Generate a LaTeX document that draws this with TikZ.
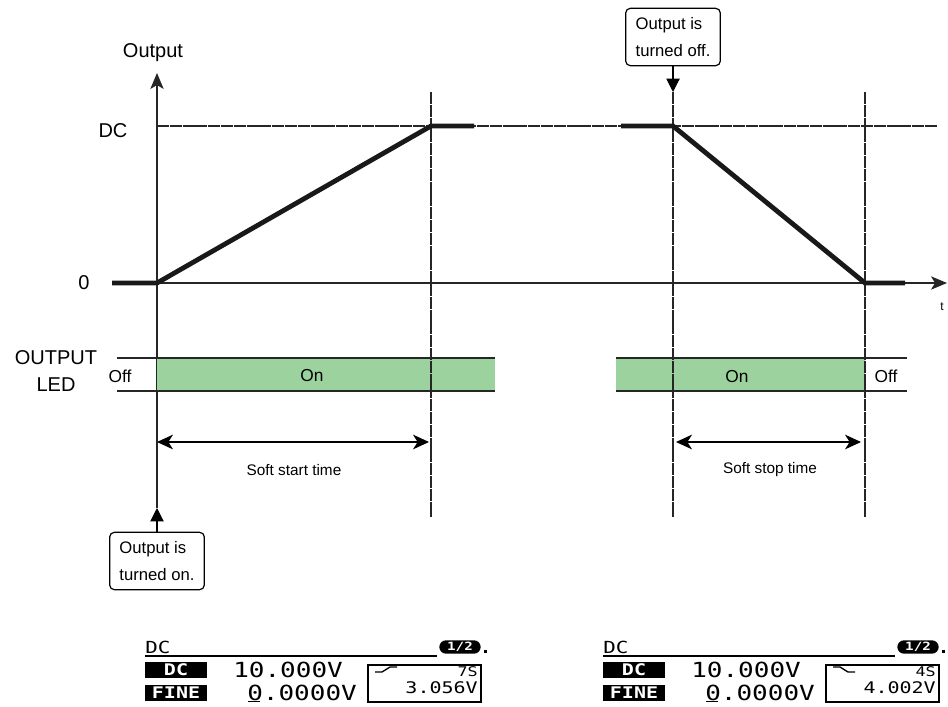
\documentclass[tikz,border=0pt]{standalone}
\usepackage{fontspec}
\setmainfont{Liberation Sans}
\newfontfamily\lcdfont[FakeStretch=1.25]{DejaVu Sans Mono}
\usetikzlibrary{arrows.meta,positioning,calc}
\definecolor{ledgreen}{RGB}{155,210,157}

\begin{document}
\begin{tikzpicture}[
    x=0.75pt, y=-0.75pt,
    thinline/.style={
        line width=0.8pt,
        draw=black!85
    },
    guideline/.style={
        line width=0.8pt,
        draw=black!85,
        dash pattern=on 9pt off 0.6pt
    },
    rampline/.style={
        line width=3.6pt,
        draw=black!90
    },
    pointer/.style={
        -{Triangle[length=10pt,width=10pt]},
        line width=0.8pt
    },
    spanarrow/.style={
        {Stealth[length=12pt,width=11pt,inset=3.5pt]}-{Stealth[length=12pt,width=11pt,inset=3.5pt]},
        line width=0.8pt
    },
    axislabel/.style={font=\fontsize{15}{20}\selectfont, inner sep=0pt, align=center},
    ledlabel/.style={font=\fontsize{13}{15}\selectfont, inner sep=0pt},
    spanlabel/.style={font=\fontsize{11.5}{14}\selectfont, inner sep=0pt},
    callout/.style={
        draw,
        rounded corners=3.5pt,
        line width=0.9pt,
        align=left,
        font=\fontsize{12.5}{20}\selectfont,
        minimum width=71pt,
        minimum height=43pt,
        inner xsep=6pt
    },
    lcd/.style={font=\lcdfont\fontsize{#1}{#1}\selectfont, inner sep=0pt},
    lcdkey/.style={
        fill=black,
        text=white,
        font=\lcdfont\bfseries\fontsize{12}{12}\selectfont,
        inner sep=0pt,
        minimum width=46.5pt,
        minimum height=12pt
    },
    pagebadge/.style={
        fill=black,
        text=white,
        rounded corners=5pt,
        font=\lcdfont\bfseries\fontsize{8.5}{8.5}\selectfont,
        inner sep=0pt,
        minimum width=31pt,
        minimum height=10pt
    }
]
    \useasboundingbox (0,0) rectangle (948,706);

    % --- AXES ---
    \coordinate (ytop) at (157,73);
    \coordinate (ontip) at (157,508);
    \coordinate (zstart) at (112,283);
    \coordinate (tend) at (947,283);

    \draw[thinline, -{Stealth[length=12pt,width=10pt,inset=3pt]}] (ontip) -- (ytop);
    \draw[thinline, -{Stealth[length=12pt,width=10pt,inset=3pt]}] (zstart) -- (tend);

    \node[axislabel] (outlabel) at (153,53) {Output};
    \node[axislabel] (dclabel) at (113,131) {DC};
    \node[axislabel] (zerolabel) at (84,283) {0};
    \node[font=\fontsize{9}{10}\selectfont, inner sep=0pt] (tlabel) at (942,307) {t};

    % --- GUIDE LINES ---
    \coordinate (dcleft) at (157,126);
    \coordinate (dcright) at (937,126);
    \draw[guideline] (dcleft) -- (dcright);

    \coordinate (startt) at (431,92);
    \coordinate (startb) at (431,517);
    \coordinate (stopt) at (673,92);
    \coordinate (stopb) at (673,517);
    \coordinate (endt) at (865,92);
    \coordinate (endb) at (865,517);

    % --- OUTPUT LED BANDS ---
    \fill[ledgreen] (157,358) rectangle (495,391);
    \fill[ledgreen] (616,358) rectangle (865,391);
    \draw[thinline] (117,358) -- (495,358);
    \draw[thinline] (117,391) -- (495,391);
    \draw[thinline] (616,358) -- (907,358);
    \draw[thinline] (616,391) -- (907,391);

    \draw[guideline] (startt) -- (startb);
    \draw[guideline] (stopt) -- (stopb);
    \draw[guideline] (endt) -- (endb);

    \node[axislabel] (ledname) at (56,371) {OUTPUT\\LED};
    \node[ledlabel] (offa) at (120,376) {Off};
    \node[ledlabel] (ona) at (312,376) {On};
    \node[ledlabel] (onb) at (737,377) {On};
    \node[ledlabel] (offb) at (886,376) {Off};

    % --- OUTPUT WAVEFORM ---
    \coordinate (rampa) at (157,283);
    \coordinate (rampb) at (431,126);
    \coordinate (rampc) at (474,126);
    \coordinate (falla) at (621,126);
    \coordinate (fallb) at (673,126);
    \coordinate (fallc) at (865,283);
    \coordinate (falld) at (905,283);

    \draw[rampline] (zstart) -- (rampa) -- (rampb) -- (rampc);
    \draw[rampline] (falla) -- (fallb) -- (fallc) -- (falld);

    % --- SOFT START / STOP SPANS ---
    \coordinate (ssa) at (157,442);
    \coordinate (ssb) at (429,442);
    \coordinate (spa) at (676,442);
    \coordinate (spb) at (861,442);
    \draw[spanarrow] (ssa) -- (ssb);
    \draw[spanarrow] (spa) -- (spb);
    \node[spanlabel] (sslabel) at (294,470) {Soft start time};
    \node[spanlabel] (splabel) at (770,470) {Soft stop time};

    % --- CALLOUTS ---
    \node[callout] (onbox) at (157,561) {Output is\\turned on.};
    \node[callout] (offbox) at (673,37) {Output is\\turned off.};
    \draw[pointer] (onbox.north) -- (ontip);
    \draw[pointer] (offbox.south) -- (stopt);

    % --- PANEL DISPLAY (SOFT START) ---
    \node[lcd=12.5, anchor=west] (ldc) at (145,647) {DC};
    \draw[line width=1.4pt] (145,656) -- (437,656);
    \node[pagebadge] (lpage) at (460,647) {1/2};
    \fill (484,650) rectangle (487,653);
    \node[lcdkey] (lkey) at (176,670) {DC};
    \node[lcd=15.6, anchor=west] (lset) at (233,670) {10.000V};
    \node[lcdkey] (lfine) at (176,693) {FINE};
    \node[lcd=15.6, anchor=west] (lfval) at (247,693) {0.0000V};
    \draw[line width=1.2pt] (248,701.5) -- (260,701.5);
    \draw[line width=1.1pt] (368,665) rectangle (481,702);
    \draw[line width=1pt] (375,672) -- (382,672) -- (390,667) -- (397,667);
    \node[lcd=10, anchor=east] (ltime) at (478,672) {7S};
    \node[lcd=12, anchor=east] (lvolt) at (478,688) {3.056V};

    % --- PANEL DISPLAY (SOFT STOP) ---
    \node[lcd=12.5, anchor=west] (rdc) at (603,647) {DC};
    \draw[line width=1.4pt] (603,656) -- (895,656);
    \node[pagebadge] (rpage) at (918,647) {1/2};
    \fill (942,650) rectangle (945,653);
    \node[lcdkey] (rkey) at (634,670) {DC};
    \node[lcd=15.6, anchor=west] (rset) at (691,670) {10.000V};
    \node[lcdkey] (rfine) at (634,693) {FINE};
    \node[lcd=15.6, anchor=west] (rfval) at (705,693) {0.0000V};
    \draw[line width=1.2pt] (706,701.5) -- (718,701.5);
    \draw[line width=1.1pt] (826,665) rectangle (939,702);
    \draw[line width=1pt] (833,667) -- (840,667) -- (848,672) -- (855,672);
    \node[lcd=10, anchor=east] (rtime) at (936,672) {4S};
    \node[lcd=12, anchor=east] (rvolt) at (936,688) {4.002V};
\end{tikzpicture}
\end{document}
